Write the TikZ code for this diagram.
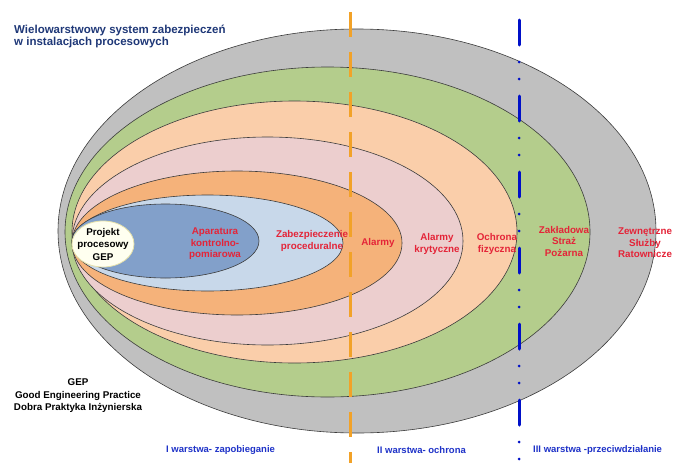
\documentclass[tikz,border=0pt]{standalone}
\usepackage{fontspec}
\setmainfont{Liberation Sans}
\definecolor{cgray}{RGB}{192,192,192}
\definecolor{cgreen}{RGB}{180,205,140}
\definecolor{cpeach}{RGB}{250,206,170}
\definecolor{cpink}{RGB}{236,206,206}
\definecolor{corange}{RGB}{245,178,122}
\definecolor{clblue}{RGB}{200,216,234}
\definecolor{cdblue}{RGB}{130,160,202}
\definecolor{civory}{RGB}{255,255,240}
\definecolor{cedge}{RGB}{60,60,60}
\definecolor{labelred}{RGB}{228,36,56}
\definecolor{titleblue}{RGB}{31,56,120}
\definecolor{layerblue}{RGB}{30,50,200}
\definecolor{dashorange}{RGB}{242,162,40}
\definecolor{dashblue}{RGB}{0,16,200}
\begin{document}
\begin{tikzpicture}[x=1pt,y=-1pt,
  layer/.style={draw=cedge, line width=0.6pt},
  lbl/.style={text=labelred, font=\bfseries\fontsize{9.8}{11.5}\selectfont, align=center, inner sep=0pt},
  blk/.style={text=black, font=\bfseries\fontsize{9.8}{12.5}\selectfont, align=center, inner sep=0pt},
  bottomlbl/.style={text=layerblue, font=\bfseries\fontsize{9.5}{11}\selectfont, inner sep=0pt, anchor=west},
  sepline/.style={line width=3pt}
]
\useasboundingbox (0,0) rectangle (676,463);
\fill[white] (0,0) rectangle (676,463);
% layers
\draw[layer, fill=cgray]   (357,231)   ellipse [x radius=299pt,   y radius=202pt];
\draw[layer, fill=cgreen]  (327.5,232) ellipse [x radius=262.5pt, y radius=165pt];
\draw[layer, fill=cpeach]  (294.5,232) ellipse [x radius=222.5pt, y radius=131pt];
\draw[layer, fill=cpink]   (267.5,241) ellipse [x radius=195.5pt, y radius=104pt];
\draw[layer, fill=corange] (237,243)   ellipse [x radius=165pt,   y radius=72pt];
\draw[layer, fill=clblue]  (207.5,243) ellipse [x radius=135.5pt, y radius=48pt];
\draw[layer, fill=cdblue]  (165.5,241) ellipse [x radius=93.5pt,  y radius=37pt];
\draw[draw={rgb,255:red,230;green,225;blue,170}, line width=0.8pt, fill=civory] (103,244) ellipse [x radius=31pt, y radius=23pt];
% labels
\node[blk] (gep) at (103,244) {Projekt\\procesowy\\GEP};
\node[lbl] (apar) at (215,244) {Aparatura\\kontrolno-\\pomiarowa};
\node[lbl] (zab) at (312,241) {Zabezpieczenie\\proceduralne};
\node[lbl] (alarm) at (378,243) {Alarmy};
\node[lbl] (akryt) at (437,244) {Alarmy\\krytyczne};
\node[lbl] (ochr) at (497,244) {Ochrona\\fizyczna};
\node[lbl] (straz) at (564,241) {Zakładowa\\Straż\\Pożarna};
\node[lbl] (zewn) at (645,243) {Zewnętrzne\\Służby\\Ratownicze};
\node[text=titleblue, font=\bfseries\fontsize{11.5}{12}\selectfont, align=left, anchor=north west, inner sep=0pt] (title) at (14,25) {Wielowarstwowy system zabezpieczeń\\w instalacjach procesowych};
\node[blk] (gepnote) at (78,396) {GEP\\Good Engineering Practice\\Dobra Praktyka Inżynierska};
\node[bottomlbl] (w1) at (166,450) {I warstwa- zapobieganie};
\node[bottomlbl] (w2) at (377,450) {II warstwa- ochrona};
\node[bottomlbl] (w3) at (533,450) {III warstwa -przeciwdziałanie};
% separator lines
\coordinate (o1) at (350,12);
\coordinate (o2) at (350,463);
\coordinate (b1) at (519,20);
\coordinate (b2) at (519,463);
\draw[sepline, dashorange, dash pattern=on 25pt off 15pt] (o1) -- (o2);
\draw[sepline, dashblue, line cap=round, dash pattern=on 25pt off 17pt on 0pt off 17pt on 0pt off 17pt] (b1) -- (b2);
\end{tikzpicture}
\end{document}
